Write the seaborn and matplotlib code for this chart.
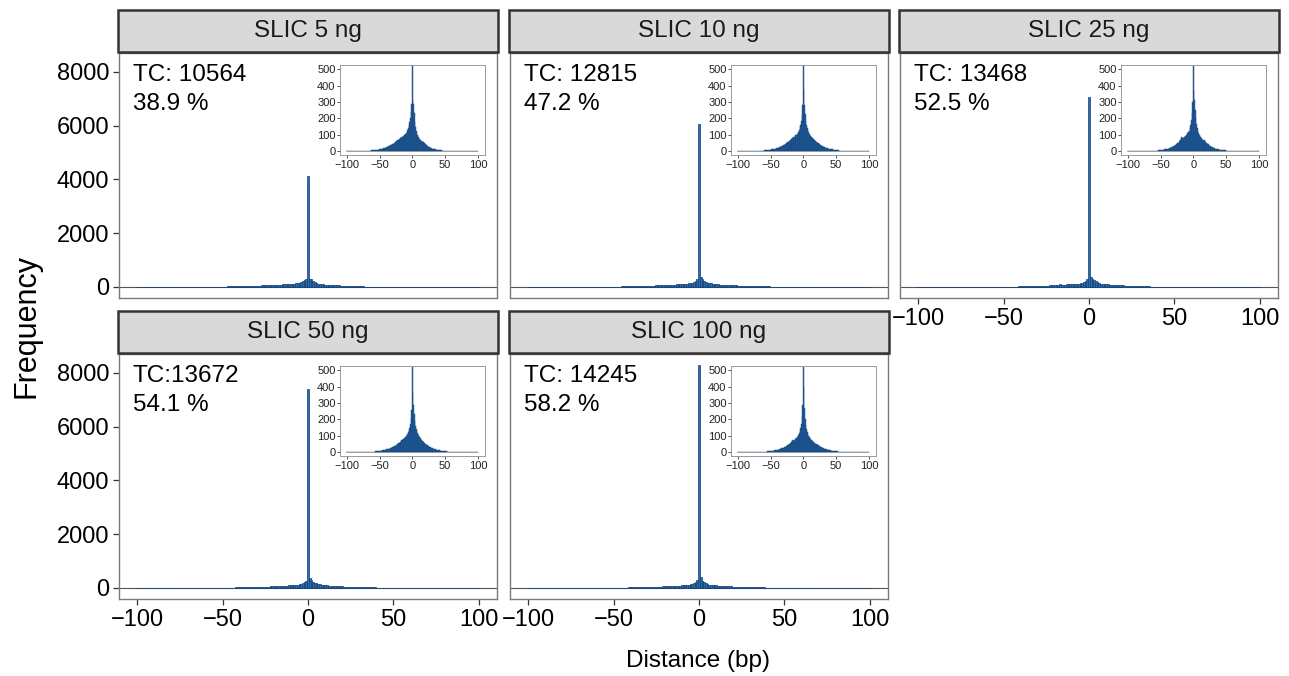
import numpy as np
import pandas as pd
import matplotlib
matplotlib.use("Agg")
import matplotlib.pyplot as plt
from matplotlib.patches import Rectangle
import seaborn as sns

# ---------------------------------------------------------------------------
# Data: read-pair distance histograms (1 bp bins, -100 .. 100 bp)
# left_* lists run from -1 bp outwards to -100 bp, right_* from +1 bp to +100 bp
# ---------------------------------------------------------------------------
panels = ["SLIC 5 ng", "SLIC 10 ng", "SLIC 25 ng", "SLIC 50 ng", "SLIC 100 ng"]
tc_prefix = ["TC: ", "TC: ", "TC: ", "TC:", "TC: "]
totals = [10564, 12815, 13468, 13672, 14245]
peak_at_zero = [4109, 6049, 7071, 7397, 8291]

left_5 = [290, 240, 205, 180, 160, 140, 128, 118, 110, 104,
          98, 102, 94, 90, 88, 84, 80, 82, 76, 72,
          70, 66, 68, 62, 58, 56, 52, 50, 47, 44,
          42, 40, 36, 35, 33, 30, 29, 27, 25, 24,
          22, 21, 19, 18, 17, 16, 15, 13, 12, 12,
          11, 10, 9, 9, 8, 7, 7, 6, 6, 5,
          5, 5, 4, 4, 4, 3, 3, 3, 3, 2,
          2, 2, 2, 2, 2, 2, 1, 2, 1, 1,
          1, 1, 1, 1, 1, 1, 1, 0, 1, 1,
          1, 0, 1, 1, 0, 1, 0, 1, 0, 1]
right_5 = [310, 290, 232, 180, 150, 125, 108, 98, 88, 80,
           72, 68, 62, 60, 58, 62, 56, 52, 48, 45,
           40, 36, 33, 30, 27, 25, 23, 21, 19, 17,
           15, 14, 13, 12, 11, 10, 9, 9, 8, 7,
           7, 6, 6, 5, 5, 4, 4, 4, 3, 3,
           3, 3, 2, 2, 2, 2, 2, 1, 2, 1,
           1, 1, 1, 1, 1, 1, 1, 1, 0, 1,
           1, 0, 1, 0, 1, 0, 1, 0, 0, 1,
           0, 1, 0, 0, 1, 0, 0, 1, 0, 0,
           0, 0, 1, 0, 0, 0, 1, 0, 0, 0]

left_10 = [280, 220, 185, 160, 145, 130, 120, 112, 106, 100,
           95, 98, 90, 86, 84, 80, 78, 74, 70, 67,
           64, 60, 57, 54, 51, 48, 45, 42, 40, 37,
           35, 33, 31, 29, 27, 25, 24, 22, 21, 19,
           18, 17, 16, 15, 14, 13, 12, 11, 10, 10,
           9, 8, 8, 7, 6, 6, 5, 5, 5, 4,
           4, 4, 3, 3, 3, 3, 2, 2, 2, 2,
           2, 2, 1, 2, 1, 1, 1, 1, 1, 1,
           1, 1, 0, 1, 1, 0, 1, 0, 1, 0,
           0, 1, 0, 1, 0, 0, 1, 0, 0, 1]
right_10 = [380, 280, 225, 185, 160, 140, 127, 115, 107, 99,
            93, 87, 85, 80, 76, 72, 69, 65, 62, 58,
            55, 52, 49, 46, 43, 40, 37, 35, 33, 31,
            29, 27, 25, 23, 21, 20, 18, 17, 16, 15,
            14, 13, 12, 11, 10, 9, 9, 8, 7, 7,
            6, 6, 5, 5, 4, 4, 4, 3, 3, 3,
            3, 2, 2, 2, 2, 2, 1, 1, 1, 1,
            1, 1, 1, 1, 1, 1, 0, 1, 0, 1,
            1, 0, 1, 0, 1, 0, 0, 1, 0, 0,
            0, 1, 0, 0, 1, 0, 0, 0, 1, 0]

left_25 = [300, 230, 190, 160, 140, 125, 115, 110, 112, 100,
           96, 92, 88, 84, 80, 78, 90, 85, 72, 66,
           60, 56, 52, 48, 45, 42, 39, 36, 33, 31,
           29, 27, 25, 23, 22, 20, 19, 17, 16, 15,
           14, 13, 12, 11, 10, 10, 9, 8, 8, 7,
           6, 6, 5, 5, 4, 4, 4, 3, 3, 3,
           3, 2, 2, 2, 2, 2, 1, 2, 1, 1,
           1, 1, 1, 1, 1, 0, 1, 1, 0, 1,
           1, 0, 1, 0, 0, 1, 0, 1, 0, 0,
           0, 1, 0, 0, 0, 1, 0, 0, 0, 1]
right_25 = [370, 310, 250, 200, 165, 140, 125, 112, 100, 92,
            88, 82, 76, 70, 66, 65, 70, 64, 58, 52,
            50, 46, 42, 38, 35, 32, 29, 26, 24, 22,
            20, 18, 17, 15, 14, 13, 12, 11, 10, 9,
            8, 8, 7, 7, 6, 6, 5, 5, 5, 4,
            4, 4, 3, 3, 3, 3, 2, 2, 2, 2,
            2, 2, 1, 1, 1, 1, 1, 1, 1, 1,
            1, 1, 0, 1, 1, 0, 1, 0, 1, 0,
            0, 1, 0, 1, 0, 0, 1, 0, 0, 1,
            0, 0, 1, 0, 0, 1, 0, 0, 0, 0]

left_50 = [260, 210, 175, 150, 135, 122, 112, 105, 98, 92,
           88, 84, 80, 82, 76, 72, 68, 65, 62, 58,
           55, 52, 49, 46, 43, 41, 38, 36, 34, 32,
           30, 28, 26, 25, 23, 22, 20, 19, 18, 17,
           15, 14, 13, 12, 12, 11, 10, 9, 9, 8,
           7, 7, 6, 6, 5, 5, 4, 4, 4, 3,
           3, 3, 3, 2, 2, 2, 2, 2, 1, 1,
           1, 1, 1, 1, 1, 1, 1, 0, 1, 1,
           1, 0, 1, 0, 1, 0, 1, 0, 0, 1,
           0, 0, 1, 0, 0, 1, 0, 0, 1, 0]
right_50 = [360, 290, 235, 192, 163, 142, 127, 117, 107, 100,
            92, 86, 80, 75, 70, 66, 62, 58, 55, 52,
            48, 45, 42, 39, 36, 34, 32, 30, 28, 26,
            24, 22, 21, 19, 18, 17, 16, 15, 14, 13,
            12, 11, 10, 10, 9, 8, 8, 7, 7, 6,
            6, 5, 5, 4, 4, 4, 3, 3, 3, 3,
            2, 2, 2, 2, 2, 1, 1, 1, 1, 1,
            1, 1, 1, 0, 1, 1, 0, 1, 0, 1,
            0, 1, 0, 1, 0, 0, 1, 0, 1, 0,
            1, 0, 0, 0, 1, 0, 0, 0, 0, 1]

left_100 = [290, 220, 175, 148, 130, 118, 108, 100, 94, 88,
            84, 80, 77, 74, 70, 72, 66, 62, 58, 55,
            52, 49, 46, 43, 40, 38, 35, 33, 31, 29,
            27, 25, 24, 22, 21, 19, 18, 17, 16, 15,
            14, 13, 12, 11, 10, 10, 9, 8, 8, 7,
            6, 6, 5, 5, 5, 4, 4, 4, 3, 3,
            3, 3, 2, 2, 2, 2, 2, 1, 1, 1,
            1, 1, 1, 1, 1, 1, 0, 1, 1, 0,
            1, 0, 1, 0, 1, 0, 0, 1, 0, 0,
            0, 1, 0, 0, 1, 0, 0, 0, 1, 0]
right_100 = [400, 270, 205, 165, 140, 122, 110, 100, 94, 88,
             80, 76, 72, 68, 64, 60, 57, 54, 51, 48,
             48, 45, 42, 39, 37, 34, 32, 30, 28, 26,
             24, 22, 21, 19, 18, 17, 15, 14, 13, 12,
             11, 10, 10, 9, 8, 8, 7, 7, 6, 6,
             5, 5, 4, 4, 4, 3, 3, 3, 3, 2,
             2, 2, 2, 2, 1, 1, 1, 1, 1, 1,
             1, 1, 0, 1, 1, 0, 1, 0, 1, 0,
             1, 0, 0, 1, 0, 1, 0, 0, 0, 1,
             0, 1, 0, 0, 0, 1, 0, 0, 0, 0]

left_flanks = [left_5, left_10, left_25, left_50, left_100]
right_flanks = [right_5, right_10, right_25, right_50, right_100]

distance = np.arange(-100, 101)
bin_range = (-100.5, 100.5)

frames = []
for name, lf, rf, pk, tot in zip(panels, left_flanks, right_flanks, peak_at_zero, totals):
    counts = list(reversed(lf)) + [pk] + list(rf)
    assert sum(counts) == tot, (name, sum(counts), tot)
    frames.append(pd.DataFrame({"sample": name, "distance": distance, "count": counts}))
df = pd.concat(frames, ignore_index=True)

# ---------------------------------------------------------------------------
# Figure layout (pixel based, 100 dpi)
# ---------------------------------------------------------------------------
sns.set_theme(style="white")
plt.rcParams["font.family"] = ["Liberation Sans", "DejaVu Sans"]
plt.rcParams["axes.unicode_minus"] = True

W, H = 1289, 676
fig = plt.figure(figsize=(W / 100, H / 100), dpi=100)
fig.patch.set_facecolor("white")


def rect(x0, y0, x1, y1):
    return [x0 / W, 1 - y1 / H, (x1 - x0) / W, (y1 - y0) / H]


col_x = [(119, 497), (510, 888), (900, 1278)]
row_y = [(53, 298), (354, 599)]
strip_y = [(10, 52), (311, 353)]

FILL = "#2b6cb0"
EDGE = "#123f73"
PANEL_EDGE = "#7a7a7a"
TICK_COL = "#333333"

ymax = max(peak_at_zero)
ylim = (-0.05 * ymax, 1.05 * ymax)
span = bin_range[1] - bin_range[0]
xlim = (bin_range[0] - 0.05 * span, bin_range[1] + 0.05 * span)

for i, name in enumerate(panels):
    r, c = divmod(i, 3)
    x0, x1 = col_x[c]
    y0, y1 = row_y[r]
    ax = fig.add_axes(rect(x0, y0, x1, y1))
    sub = df[df["sample"] == name]

    ax.axhline(0, color="#555555", lw=0.8, zorder=1)
    sns.histplot(data=sub, x="distance", weights="count", binwidth=1, binrange=bin_range,
                 ax=ax, color=FILL, edgecolor=EDGE, linewidth=0.5, alpha=1, zorder=2)
    ax.set_xlim(*xlim)
    ax.set_ylim(*ylim)
    ax.set_xlabel("")
    ax.set_ylabel("")
    ax.set_xticks([-100, -50, 0, 50, 100])
    ax.set_yticks([0, 2000, 4000, 6000, 8000])
    for sp in ax.spines.values():
        sp.set_visible(True)
        sp.set_color(PANEL_EDGE)
        sp.set_linewidth(1.0)
    show_y = (c == 0)
    show_x = (i >= 2)
    ax.tick_params(axis="y", left=show_y, labelleft=show_y, direction="out",
                   length=4, width=0.9, color=TICK_COL, labelsize=17, pad=3,
                   labelcolor="black")
    ax.tick_params(axis="x", bottom=show_x, labelbottom=show_x, direction="out",
                   length=4, width=0.9, color=TICK_COL, labelsize=17, pad=3,
                   labelcolor="black")

    # strip header
    sx0, sx1 = x0 - 1, x1 + 1
    sy0, sy1 = strip_y[r]
    fig.patches.append(Rectangle((sx0 / W, 1 - sy1 / H), (sx1 - sx0) / W, (sy1 - sy0) / H,
                                 transform=fig.transFigure, facecolor="#d9d9d9",
                                 edgecolor="#333333", linewidth=1.8, zorder=3))
    fig.text((sx0 + sx1) / 2 / W, 1 - (sy0 + sy1) / 2 / H, name, ha="center", va="center",
             fontsize=17.5, color="#1a1a1a", zorder=4)

    # total count and fraction at zero distance
    tot = int(sub["count"].sum())
    pk = int(sub.loc[sub["distance"] == 0, "count"].iloc[0])
    ax.text(0.037, 0.955, f"{tc_prefix[i]}{tot}", transform=ax.transAxes,
            ha="left", va="top", fontsize=17.5, color="black")
    ax.text(0.037, 0.835, f"{100 * pk / tot:.1f} %", transform=ax.transAxes,
            ha="left", va="top", fontsize=17.5, color="black")

    # zoomed inset of the flanks
    ins = ax.inset_axes([0.584, 0.582, 0.384, 0.369])
    ins.hlines(0, bin_range[0], bin_range[1], color="#b0b0b0", lw=0.6, zorder=1)
    sns.histplot(data=sub, x="distance", weights="count", binwidth=1, binrange=bin_range,
                 ax=ins, color=FILL, edgecolor=EDGE, linewidth=0.3, alpha=1, zorder=2)
    ins.set_xlim(*xlim)
    ins.set_ylim(-25, 525)
    ins.set_xlabel("")
    ins.set_ylabel("")
    ins.set_xticks([-100, -50, 0, 50, 100])
    ins.set_yticks([0, 100, 200, 300, 400, 500])
    ins.set_facecolor("white")
    for sp in ins.spines.values():
        sp.set_visible(True)
        sp.set_color("#9a9a9a")
        sp.set_linewidth(0.7)
    ins.tick_params(axis="both", direction="out", length=2, width=0.6, color=TICK_COL,
                    labelsize=8, pad=1, labelcolor="#222222", left=True, bottom=True)

fig.text((119 + 1278) / 2 / W, 1 - 661 / H, "Distance (bp)", ha="center", va="center",
         fontsize=17.5, color="black")
fig.text(27 / W, 1 - 326 / H, "Frequency", ha="center", va="center", rotation=90,
         fontsize=22, color="black")

fig.savefig("out.png", dpi=100, facecolor="white")
